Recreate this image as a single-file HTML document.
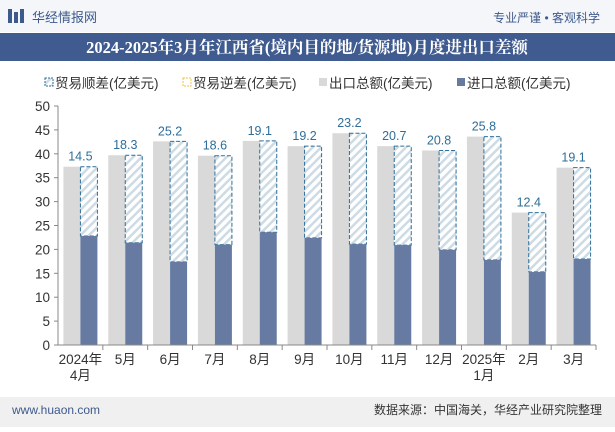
<!DOCTYPE html>
<html><head><meta charset="utf-8"><style>
body{margin:0;width:615px;height:427px;overflow:hidden;background:#fff;font-family:"Liberation Sans","Noto Sans CJK SC",sans-serif;}
</style></head><body>
<svg width="615" height="427" xmlns="http://www.w3.org/2000/svg" font-family="Liberation Sans, Noto Sans CJK SC, sans-serif">
<defs>
<pattern id="hatch" width="6" height="6" patternUnits="userSpaceOnUse" patternTransform="rotate(45)">
<rect width="6" height="6" fill="#fff"/><rect width="2.5" height="6" fill="#cddbe5"/></pattern>
</defs>
<rect x="0" y="0" width="615" height="32" fill="#f4f6f9"/>
<rect x="8" y="9" width="4" height="14" fill="#3d5a8c"/><rect x="14" y="12" width="4" height="11" fill="#3d5a8c"/><rect x="20" y="9" width="4" height="14" fill="#3d5a8c"/>
<text x="32" y="22" font-size="13" fill="#3d5a8c">华经情报网</text>
<text x="600" y="22" font-size="12" fill="#3d5a8c" text-anchor="end">专业严谨 • 客观科学</text>
<rect x="0" y="33" width="615" height="28" fill="#3f5b8f"/>
<text x="307" y="53" font-size="16.5" font-weight="bold" fill="#fff" text-anchor="middle" font-family="Liberation Serif, Noto Serif CJK SC, serif">2024-2025年3月年江西省(境内目的地/货源地)月度进出口差额</text>
<g font-size="13.5" fill="#333">
<rect x="45" y="78" width="8" height="8" fill="url(#hatch)" stroke="#2e6e99" stroke-dasharray="2,1"/><text x="55" y="88">贸易顺差(亿美元)</text>
<rect x="183" y="78" width="8" height="8" fill="#fff" stroke="#f0c040" stroke-dasharray="2,1"/><text x="193" y="88">贸易逆差(亿美元)</text>
<rect x="319" y="78" width="8" height="8" fill="#d9d9d9"/><text x="329" y="88">出口总额(亿美元)</text>
<rect x="457" y="78" width="8" height="8" fill="#677ba2"/><text x="467" y="88">进口总额(亿美元)</text>
</g>
<g id="plot"></g>
<rect x="0" y="397" width="615" height="30" fill="#f0f0f0"/>
<text x="12" y="414" font-size="12" fill="#3d5a8c">www.huaon.com</text>
<text x="602" y="414" font-size="12" fill="#333" text-anchor="end">数据来源：中国海关，华经产业研究院整理</text>
</svg>
<script>
const categories=["2024年|4月","5月","6月","7月","8月","9月","10月","11月","12月","2025年|1月","2月","3月"];
const exportsV=[37.3,39.7,42.6,39.6,42.7,41.6,44.3,41.6,40.7,43.6,27.7,37.1];
const importsV=[22.8,21.4,17.4,21.0,23.6,22.4,21.1,20.9,19.9,17.8,15.3,18.0];
const surplus=[14.5,18.3,25.2,18.6,19.1,19.2,23.2,20.7,20.8,25.8,12.4,19.1];
const yTicks=[0,5,10,15,20,25,30,35,40,45,50];
const NS="http://www.w3.org/2000/svg";
const g=document.getElementById('plot');
const x0=58,x1=596,y0=345,y1=106,ymax=50;
const step=(x1-x0)/categories.length;
const y=v=>y0-(v/ymax)*(y0-y1);
const cx=i=>x0+step*(i+0.5);
function mk(t,a){const e=document.createElementNS(NS,t);for(const k in a)e.setAttribute(k,a[k]);g.appendChild(e);return e;}
yTicks.forEach(t=>{
 const tl=mk('line',{x1:x0-4,x2:x0,y1:y(t),y2:y(t),stroke:'#888'});
 
 
 const tx=mk('text',{x:x0-8,y:y(t)+5,'font-size':13.5,fill:'#333','text-anchor':'end'});
 tx.textContent=t;
 
 
});
const bw=17;
categories.forEach((c,i)=>{
 const c0=cx(i);
 const ex=mk('rect',{x:c0-bw,y:y(exportsV[i]),width:bw,height:y0-y(exportsV[i]),fill:'#d9d9d9'});
 
 
 const top=importsV[i]+surplus[i];
 const hb=mk('rect',{x:c0,y:y(top),width:bw,height:y(importsV[i])-y(top),fill:'url(#hatch)',stroke:'#2e6e99','stroke-dasharray':'4,2','stroke-width':1});
 
 
 const im=mk('rect',{x:c0,y:y(importsV[i]),width:bw,height:y0-y(importsV[i]),fill:'#677ba2'});
 
 
 const lb=mk('text',{x:c0,y:y(top)-6,'font-size':12.5,fill:'#2e6e99','text-anchor':'middle'});
 lb.textContent=surplus[i].toFixed(1);
 
 
 const parts=c.split('|');
 parts.forEach((p,j)=>{
  const t=mk('text',{x:c0,y:364+j*16,'font-size':13.5,fill:'#333','text-anchor':'middle'});
  t.textContent=p;
  
  
 });
 const tk=mk('line',{x1:x0+step*(i+1),x2:x0+step*(i+1),y1:y0,y2:y0+5,stroke:'#888'});
 
 
});
const ya=mk('line',{x1:x0,x2:x0,y1:y1,y2:y0,stroke:'#888'});


const xa=mk('line',{x1:x0,x2:x1,y1:y0,y2:y0,stroke:'#888'});


</script>
</body></html>
